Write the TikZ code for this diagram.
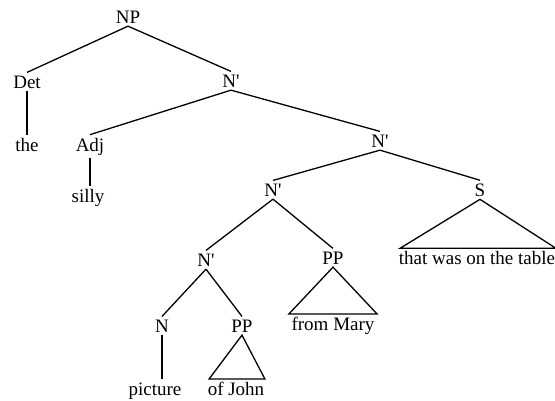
\documentclass[tikz,border=0pt]{standalone}
\usepackage{fontspec}
\setmainfont{Liberation Serif}[Ligatures=TeXOff]
\usetikzlibrary{positioning}

\begin{document}
\begin{tikzpicture}[x=1pt,y=-1pt,line width=1.3pt,
  every node/.style={font=\fontsize{19}{22}\selectfont,inner sep=2.5pt,anchor=base}]
  \tikzstyle{phrase}=[inner sep=2pt]
  \useasboundingbox (0,0) rectangle (555,400);

  \node (np)      at (128,23)  {NP};
  \node (det)     at (27,88)   {Det};
  \node (nbar1)   at (231,87)  {N'};
  \node (the)     at (27,151)  {the};
  \node (adj)     at (90,151)  {Adj};
  \node (silly)   at (88,202)  {silly};
  \node (nbar2)   at (380,147) {N'};
  \node (nbar3)   at (273,196) {N'};
  \node (s)       at (480,196) {S};
  \node[phrase] (table)   at (477,264) {that was on the table};
  \node (nbar4)   at (206,266) {N'};
  \node (ppmary)  at (333,264) {PP};
  \node[phrase] (mary)    at (333,330) {from Mary};
  \node (n)       at (162,332) {N};
  \node (ppjohn)  at (242,332) {PP};
  \node (picture) at (155,395) {picture};
  \node[phrase] (john)    at (236,395) {of John};

  \path
  (np.south) edge (det.north)
  (np.south) edge (nbar1.north)
  (det.south) edge (the.north)
  (nbar1.south) edge (adj.north)
  (nbar1.south) edge (nbar2.north)
  (adj.south) edge (adj.south |- silly.north)
  (nbar2.south) edge (nbar3.north)
  (nbar2.south) edge (s.north)
  (nbar3.south) edge (nbar4.north)
  (nbar3.south) edge (ppmary.north)
  (nbar4.south) edge (n.north)
  (nbar4.south) edge (ppjohn.north)
  (n.south) edge (n.south |- picture.north);

  % triangles
  \draw (s.south) -- ([xshift=4pt]table.north west) -- ([xshift=-2pt]table.north east) -- cycle;
  \draw (ppmary.south) -- (mary.north west) -- (mary.north east) -- cycle;
  \draw (ppjohn.south) -- ([xshift=4pt]john.north west) -- ([xshift=-2pt]john.north east) -- cycle;
\end{tikzpicture}
\end{document}
